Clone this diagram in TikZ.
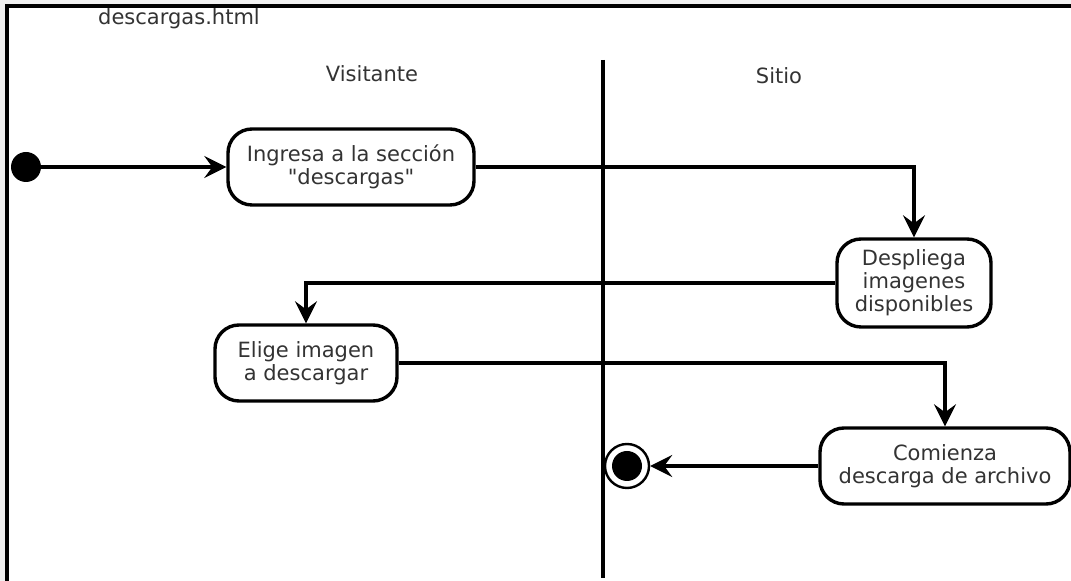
\documentclass[tikz,border=0pt]{standalone}
\usepackage{fontspec}
\setmainfont{DejaVu Sans}[Ligatures=TeXOff]
\usepackage{xcolor}
\usepackage{tikz}
\usetikzlibrary{arrows.meta, positioning}
\definecolor{txtgray}{HTML}{333333}
\tikzstyle{activity} = [draw=black, line width=1.7pt, rounded corners=12pt, fill=white, text=txtgray, align=center, inner sep=3pt]
\tikzstyle{lane} = [text=txtgray]
\tikzstyle{arrow} = [line width=1.7pt, -{Stealth[length=11pt, width=11pt, inset=4pt]}]

\begin{document}
\begin{tikzpicture}[
    x=0.5pt, y=-0.5pt,
    every node/.style={font=\fontsize{10.5}{11.5}\selectfont},
    startdot/.style={circle, fill=black, minimum size=15pt, inner sep=0pt},
    enddot/.style={circle, draw=black, line width=1.2pt, fill=white, minimum size=22pt, inner sep=0pt}
]
\useasboundingbox (0,0) rectangle (1071,581);
\fill[gray!12] (0,0) rectangle (1071,581);
\fill[white] (7,6) rectangle (1071,581);
\draw[line width=2pt] (1071,6) -- (7,6) -- (7,581);

% Lanes
\node (title) [lane] at (179,19) {descargas.html};
\node (visitante) [lane] at (372,74) {Visitante};
\node (sitio) [lane] at (779,76) {Sitio};
\coordinate (divtop) at (603,60);
\coordinate (divbot) at (603,578);
\draw[line width=1.7pt] (divtop) -- (divbot);

% Nodes
\node (start) [startdot] at (26,167) {};
\node (ingresa) [activity, minimum width=123pt, minimum height=38pt] at (351,167) {Ingresa a la sección\\"descargas"};
\node (despliega) [activity, minimum width=77pt, minimum height=44pt] at (914,283) {Despliega\\imagenes\\disponibles};
\node (elige) [activity, minimum width=91pt, minimum height=38pt] at (306,363) {Elige imagen\\a descargar};
\node (comienza) [activity, minimum width=125pt, minimum height=38pt] at (945,466) {Comienza\\descarga de archivo};
\node (end) [enddot] at (627,466) {};
\fill (end.center) circle (7.5pt);

% Arrows
\draw [arrow] (start) -- (ingresa);
\draw [arrow] (ingresa.east) -| (despliega.north);
\draw [arrow] (despliega.west) -| (elige.north);
\draw [arrow] (elige.east) -| (comienza.north);
\draw [arrow] (comienza.west) -- (end);

\end{tikzpicture}
\end{document}
